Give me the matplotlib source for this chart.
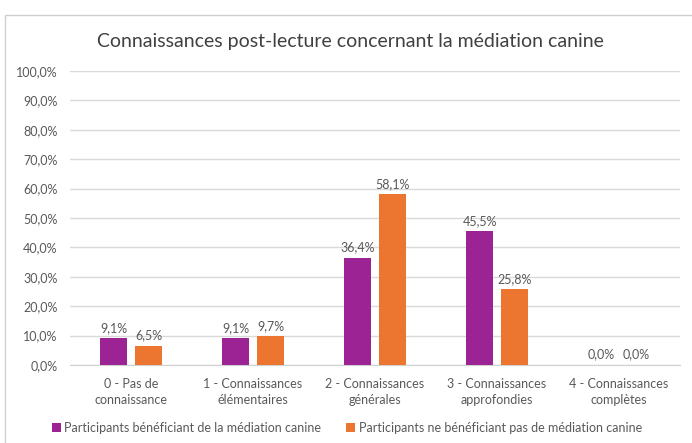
import matplotlib.pyplot as plt
from matplotlib.patches import Rectangle
import numpy as np

categories = ["0 - Pas de\nconnaissance", "1 - Connaissances\nélémentaires",
              "2 - Connaissances\ngénérales", "3 - Connaissances\napprofondies",
              "4 - Connaissances\ncomplètes"]
avec_mediation = [9.1, 9.1, 36.4, 45.5, 0.0]
sans_mediation = [6.5, 9.7, 58.1, 25.8, 0.0]
series_names = ["Participants bénéficiant de la médiation canine",
                "Participants ne bénéficiant pas de médiation canine"]
y_ticks = [0, 10, 20, 30, 40, 50, 60, 70, 80, 90, 100]

purple = "#9B2393"
orange = "#EC7630"
gray = "#595959"

plt.rcParams['font.family'] = ['Lato', 'DejaVu Sans']

fig = plt.figure(figsize=(6.92, 4.43), dpi=100)
fig.patch.set_facecolor('white')

# light frame around the whole chart
fig.patches.append(Rectangle((5 / 692, -0.05), 1.2, 1 - 15 / 443 + 0.05,
                             transform=fig.transFigure, fill=False,
                             edgecolor='#D0D0D0', linewidth=1))

ax = fig.add_axes([70 / 692, 1 - 365 / 443, 610 / 692, 294 / 443])

x = np.arange(len(categories))
w = 0.22
off = 0.143
b1 = ax.bar(x - off, avec_mediation, w, color=purple, label=series_names[0], zorder=3)
b2 = ax.bar(x + off, sans_mediation, w, color=orange, label=series_names[1], zorder=3)

for bars, vals in ((b1, avec_mediation), (b2, sans_mediation)):
    for bar, v in zip(bars, vals):
        ax.text(bar.get_x() + bar.get_width() / 2, v + 1.5,
                f"{v:.1f}%".replace('.', ','), ha='center', va='bottom',
                fontsize=9, color=gray)

ax.set_xlim(-0.5, len(categories) - 0.5)
ax.set_ylim(0, 100)
ax.set_yticks(y_ticks)
ax.set_yticklabels([f"{t:.1f}%".replace('.', ',') for t in y_ticks])
ax.set_xticks(x)
ax.set_xticklabels(categories, linespacing=1.5)
ax.tick_params(axis='both', length=0, labelsize=9, colors=gray)
ax.tick_params(axis='x', pad=9)
ax.tick_params(axis='y', pad=9)
ax.yaxis.grid(True, color='#D9D9D9', linewidth=1, zorder=0)
for s in ('top', 'right', 'left'):
    ax.spines[s].set_visible(False)
ax.spines['bottom'].set_color('#D0D0D0')

fig.text(350 / 692, 1 - 42 / 443, "Connaissances post-lecture concernant la médiation canine",
         ha='center', va='center', fontsize=14, color='#404040')

fig.legend(loc='center', bbox_to_anchor=(347 / 692, 1 - 428 / 443), ncol=2, frameon=False,
           fontsize=9, labelcolor=gray, handlelength=0.7, handleheight=0.7,
           handletextpad=0.3, columnspacing=2.0)

fig.savefig("out.png", dpi=100)
